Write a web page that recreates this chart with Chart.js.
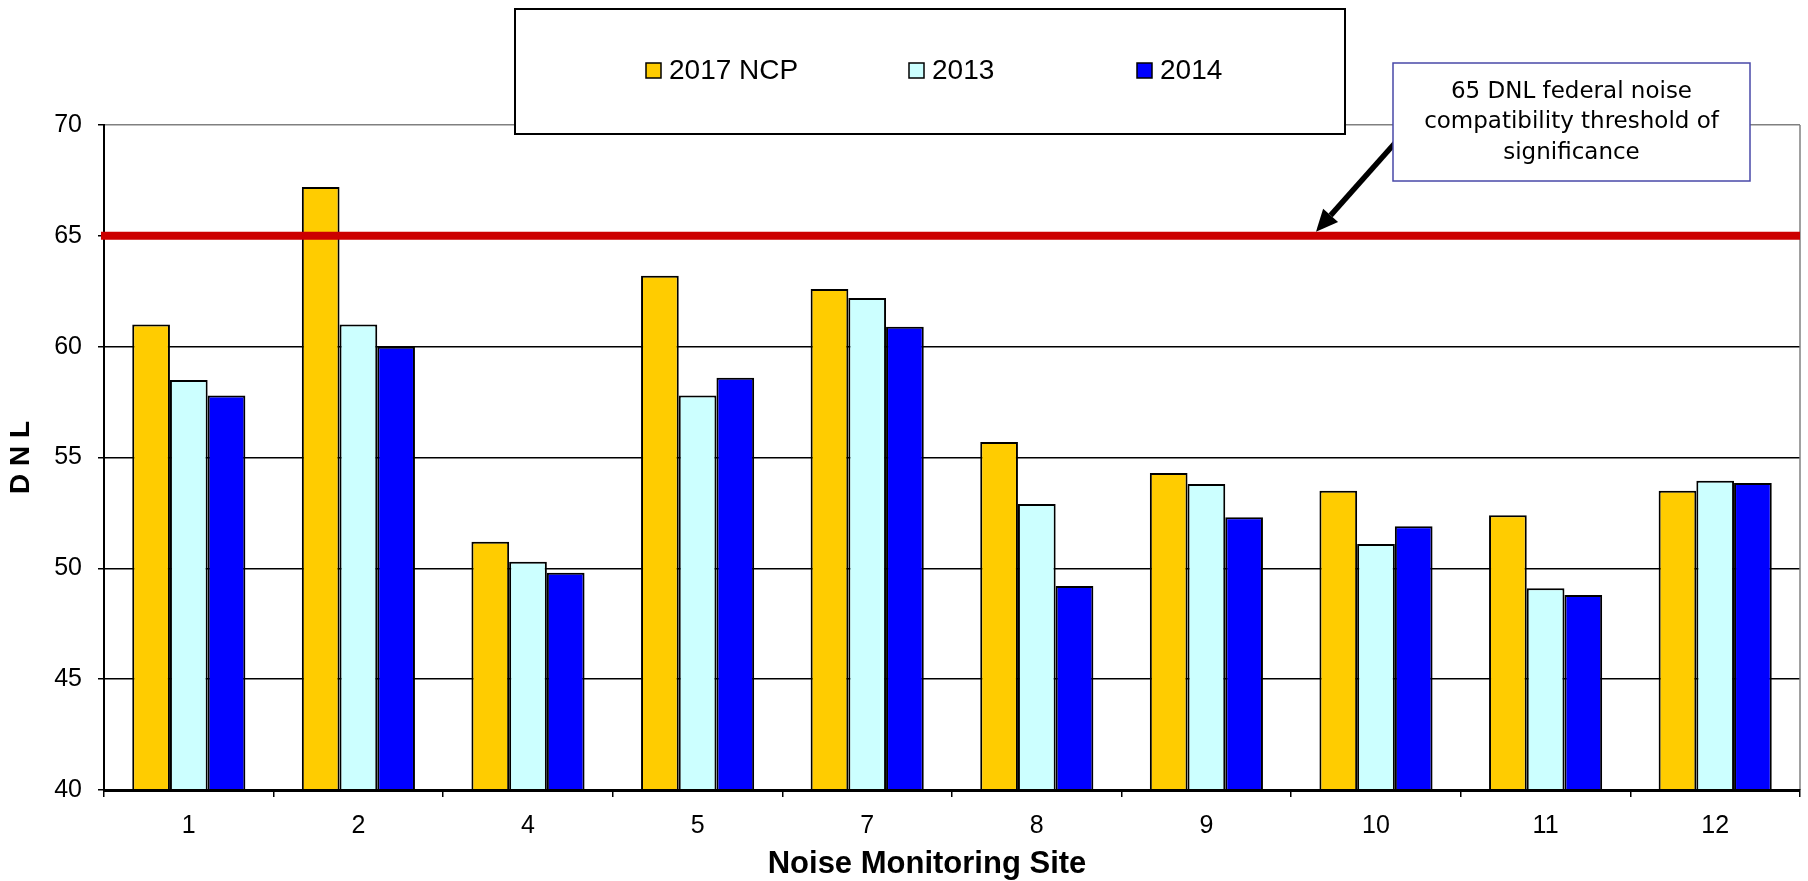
<!DOCTYPE html>
<html>
<head>
<meta charset="utf-8">
<script src="https://cdn.jsdelivr.net/npm/chart.js@4.4.1/dist/chart.umd.min.js"></script>
<style>
  html, body { margin: 0; padding: 0; background: #ffffff; }
  #wrap { width: 1808px; height: 881px; position: relative; }
</style>
</head>
<body>
<div id="wrap"><canvas id="dnlChart" width="1808" height="881"></canvas></div>
<script>
// Noise monitoring sites and measured DNL (dB) per year
const sites = ['1', '2', '4', '5', '7', '8', '9', '10', '11', '12'];
const ncp2017 = [61.0, 67.2, 51.2, 63.2, 62.6, 55.7, 54.3, 53.5, 52.4, 53.5];
const dnl2013 = [58.5, 61.0, 50.3, 57.8, 62.2, 52.9, 53.8, 51.1, 49.1, 53.95];
const dnl2014 = [57.8, 60.0, 49.8, 58.6, 60.9, 49.2, 52.3, 51.9, 48.8, 53.85];
const seriesNames = ['2017 NCP', '2013', '2014'];
const yTicks = [40, 45, 50, 55, 60, 65, 70];
const threshold = 65;
const thresholdNote = ['65 DNL federal noise', 'compatibility threshold of', 'significance'];
const xTitle = 'Noise Monitoring Site';
const yTitle = 'D N L';

const SANS = '"Liberation Sans", Arial, sans-serif';

// Threshold line, legend box, callout with arrow and the x-axis title
const decorations = {
  id: 'decorations',
  beforeDatasetsDraw(chart) {
    const { ctx, chartArea: a } = chart;
    ctx.save();
    ctx.strokeStyle = '#808080';
    ctx.lineWidth = 1.5;
    ctx.beginPath();
    ctx.moveTo(a.right, a.top);
    ctx.lineTo(a.right, a.bottom);
    ctx.stroke();
    ctx.restore();
  },
  afterDatasetsDraw(chart) {
    const { ctx, chartArea: a, scales } = chart;
    const y = scales.y.getPixelForValue(threshold);
    ctx.save();
    ctx.strokeStyle = '#CC0000';
    ctx.lineWidth = 8;
    ctx.beginPath();
    ctx.moveTo(a.left - 3, y);
    ctx.lineTo(a.right, y);
    ctx.stroke();
    ctx.restore();
  },
  afterDraw(chart) {
    const { ctx, scales } = chart;
    ctx.save();

    // legend box
    ctx.fillStyle = '#ffffff';
    ctx.fillRect(515, 9, 830, 125);
    ctx.strokeStyle = '#000000';
    ctx.lineWidth = 2;
    ctx.strokeRect(515, 9, 830, 125);
    const itemX = [646, 909, 1137];
    ctx.font = '28px ' + SANS;
    ctx.textBaseline = 'middle';
    ctx.textAlign = 'left';
    chart.data.datasets.forEach((ds, i) => {
      const x = itemX[i];
      ctx.fillStyle = ds.backgroundColor;
      ctx.fillRect(x, 63, 15, 15);
      ctx.strokeStyle = '#000000';
      ctx.lineWidth = 1.5;
      ctx.strokeRect(x, 63, 15, 15);
      ctx.fillStyle = '#000000';
      ctx.fillText(ds.label, x + 23, 71);
    });

    // callout arrow pointing at the threshold line
    const tipX = 1316;
    const tipY = scales.y.getPixelForValue(threshold) - 4;
    const sx = 1395, sy = 143;
    const ang = Math.atan2(tipY - sy, tipX - sx);
    const headLen = 22, headHalf = 10;
    const bx = tipX - headLen * Math.cos(ang);
    const by = tipY - headLen * Math.sin(ang);
    ctx.strokeStyle = '#000000';
    ctx.lineWidth = 5.5;
    ctx.beginPath();
    ctx.moveTo(sx, sy);
    ctx.lineTo(bx, by);
    ctx.stroke();
    ctx.fillStyle = '#000000';
    ctx.beginPath();
    ctx.moveTo(tipX, tipY);
    ctx.lineTo(bx + headHalf * Math.sin(ang), by - headHalf * Math.cos(ang));
    ctx.lineTo(bx - headHalf * Math.sin(ang), by + headHalf * Math.cos(ang));
    ctx.closePath();
    ctx.fill();

    // callout box
    ctx.fillStyle = '#ffffff';
    ctx.fillRect(1393, 63, 357, 118);
    ctx.strokeStyle = '#4848A8';
    ctx.lineWidth = 1.5;
    ctx.strokeRect(1393, 63, 357, 118);
    ctx.fillStyle = '#000000';
    ctx.font = '23px "DejaVu Sans", Verdana, sans-serif';
    ctx.textAlign = 'center';
    ctx.textBaseline = 'middle';
    const lineY = [92, 122.5, 153];
    thresholdNote.forEach((t, i) => ctx.fillText(t, 1571.5, lineY[i]));

    // x-axis title
    ctx.font = 'bold 31px ' + SANS;
    ctx.textAlign = 'center';
    ctx.textBaseline = 'alphabetic';
    ctx.fillText(xTitle, 927, 873);

    ctx.restore();
  }
};

const gridColor = (c) => {
  const v = c.tick && c.tick.value;
  if (v === 70) return '#808080';
  if (v === 40) return 'rgba(0,0,0,0)';
  return '#000000';
};

new Chart(document.getElementById('dnlChart'), {
  type: 'bar',
  data: {
    labels: sites,
    datasets: [
      { label: seriesNames[0], data: ncp2017, backgroundColor: '#FFCC00' },
      { label: seriesNames[1], data: dnl2013, backgroundColor: '#CCFFFF' },
      { label: seriesNames[2], data: dnl2014, backgroundColor: '#0000FF' }
    ]
  },
  options: {
    responsive: false,
    animation: false,
    devicePixelRatio: 1,
    layout: { padding: { top: 125, right: 8, left: 0, bottom: 0 } },
    datasets: {
      bar: {
        borderColor: '#000000',
        borderWidth: 2,
        categoryPercentage: 0.667,
        barPercentage: 1.0
      }
    },
    plugins: {
      legend: { display: false },
      tooltip: { enabled: false },
      title: { display: false }
    },
    scales: {
      x: {
        offset: true,
        grid: {
          offset: true,
          drawOnChartArea: false,
          drawTicks: true,
          tickLength: 7,
          color: '#000000',
          lineWidth: 1.5
        },
        border: { display: true, color: '#000000', width: 3, z: 1 },
        ticks: {
          color: '#000000',
          padding: 14,
          font: { family: SANS, size: 25 },
          maxRotation: 0
        },
        afterFit(scale) { scale.height = 91; }
      },
      y: {
        min: 40,
        max: 70,
        afterBuildTicks(scale) { scale.ticks = yTicks.map(v => ({ value: v })); },
        grid: {
          color: gridColor,
          lineWidth: 1.5,
          tickColor: '#000000',
          tickWidth: 1.5,
          tickLength: 6
        },
        border: { display: true, color: '#000000', width: 2 },
        ticks: {
          color: '#000000',
          padding: 16,
          font: { family: SANS, size: 25 }
        },
        title: {
          display: true,
          text: yTitle,
          color: '#000000',
          font: { family: SANS, size: 28, weight: 'bold' },
          padding: { top: 4, bottom: 4 }
        },
        afterFit(scale) { scale.width = 104; }
      }
    }
  },
  plugins: [decorations]
});
</script>
</body>
</html>
